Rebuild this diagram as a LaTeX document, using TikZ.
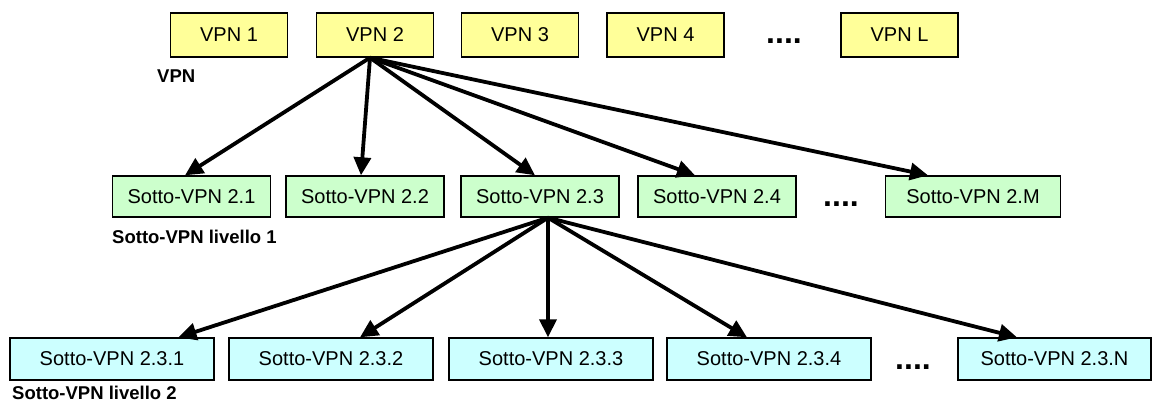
\documentclass[tikz,border=0pt]{standalone}
\usepackage{fontspec}
\setmainfont{Liberation Sans}
\usetikzlibrary{arrows.meta}
\definecolor{vpnyellow}{HTML}{FFFF99}
\definecolor{subgreen}{HTML}{CCFFCC}
\definecolor{subcyan}{HTML}{CCFFFF}

\begin{document}
\begin{tikzpicture}[x=1pt, y=-1pt,
box/.style={draw=black, line width=1.4pt, inner sep=0pt, font=\fontsize{20}{24}\selectfont},
vpn/.style={box, fill=vpnyellow, minimum width=117pt, minimum height=44pt},
sub/.style={box, fill=subgreen, minimum width=158pt, minimum height=41pt},
subsub/.style={box, fill=subcyan, minimum width=204pt, minimum height=42pt},
arr/.style={-{Triangle[length=18pt,width=17pt]}, line width=3.8pt},
lab/.style={anchor=west, inner sep=0pt, font=\bfseries\fontsize{18.5}{22}\selectfont},
dots/.style={anchor=base, inner sep=0pt, font=\bfseries\fontsize{32}{32}\selectfont}]
\useasboundingbox (0,0) rectangle (1153,403);

% livello VPN
\node[vpn] (v1) at (229,35) {VPN 1};
\node[vpn] (v2) at (375,35) {VPN 2};
\node[vpn] (v3) at (520,35) {VPN 3};
\node[vpn] (v4) at (665.5,35) {VPN 4};
\node[dots] (vd) at (784,44) {....};
\node[vpn] (vL) at (899.5,35) {VPN L};
\node[lab] (lv) at (157,76) {VPN};

% livello 1
\node[sub] (s1) at (191.5,196.5) {Sotto-VPN 2.1};
\node[sub] (s2) at (365,196.5) {Sotto-VPN 2.2};
\node[sub] (s3) at (540,196.5) {Sotto-VPN 2.3};
\node[sub] (s4) at (717,196.5) {Sotto-VPN 2.4};
\node[dots] (sd) at (841,207) {....};
\node[sub, minimum width=175pt] (sM) at (973,196.5) {Sotto-VPN 2.M};
\node[lab] (ls) at (112,237) {Sotto-VPN livello 1};

% livello 2
\node[subsub] (t1) at (112,359) {Sotto-VPN 2.3.1};
\node[subsub] (t2) at (331,359) {Sotto-VPN 2.3.2};
\node[subsub] (t3) at (551,359) {Sotto-VPN 2.3.3};
\node[subsub] (t4) at (769,359) {Sotto-VPN 2.3.4};
\node[dots] (td) at (913,369) {....};
\node[subsub, minimum width=193pt] (tN) at (1054.5,359) {Sotto-VPN 2.3.N};
\node[lab] (lt) at (12,393) {Sotto-VPN livello 2};

\draw[arr] ([xshift=-5pt]v2.south) -- ([xshift=-6.5pt]s1.north);
\draw[arr] ([xshift=-5pt]v2.south) -- ([xshift=-4pt]s2.north);
\draw[arr] ([xshift=-5pt]v2.south) -- ([xshift=-5pt]s3.north);
\draw[arr] ([xshift=-5pt]v2.south) -- ([xshift=-22pt]s4.north);
\draw[arr] ([xshift=-5pt]v2.south) -- ([xshift=-45pt]sM.north);

\draw[arr] ([xshift=8pt]s3.south) -- ([xshift=66.5pt]t1.north);
\draw[arr] ([xshift=8pt]s3.south) -- ([xshift=29pt]t2.north);
\draw[arr] ([xshift=8pt]s3.south) -- ([xshift=-3pt]t3.north);
\draw[arr] ([xshift=8pt]s3.south) -- ([xshift=-22pt]t4.north);
\draw[arr] ([xshift=8pt]s3.south) -- ([xshift=-37.5pt]tN.north);
\end{tikzpicture}
\end{document}
